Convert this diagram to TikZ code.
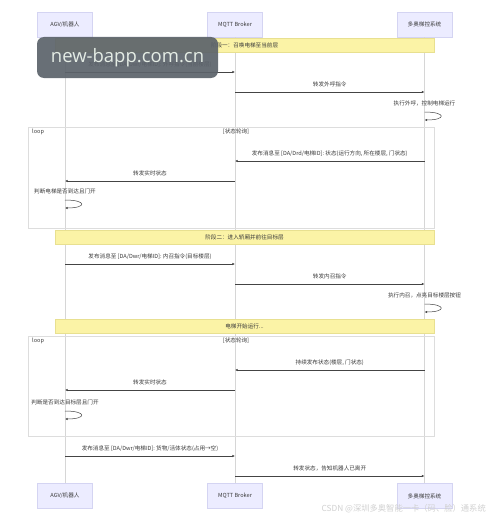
\documentclass[tikz,border=0pt]{standalone}
\usepackage{fontspec}
\usepackage{xcolor}
\usepackage{tikz}
\usetikzlibrary{arrows.meta}
\newfontfamily\cjk{Noto Sans CJK SC}
\newfontfamily\wmfont{Open Sans}
\definecolor{actorfill}{HTML}{ECECFF}
\definecolor{actorline}{HTML}{D4D4F2}
\definecolor{notefill}{HTML}{FBF3A6}
\definecolor{noteline}{HTML}{E8E090}
\definecolor{lifecol}{HTML}{D6D6D6}
\definecolor{framecol}{HTML}{DDDDDD}
\definecolor{msgcol}{HTML}{444444}
\definecolor{txtcol}{HTML}{3A3A3A}
\definecolor{wmgray}{HTML}{5C636B}
\definecolor{wmtext}{HTML}{E4ECE4}
\tikzset{
  actor/.style={rectangle, draw=actorline, fill=actorfill, minimum width=55pt,
    minimum height=25pt, text=txtcol, font=\cjk\fontsize{5.6}{7}\selectfont},
  phase/.style={rectangle, draw=noteline, fill=notefill, minimum width=379pt,
    minimum height=14pt, inner sep=1pt, text=txtcol, font=\cjk\fontsize{5.6}{7}\selectfont},
  lbl/.style={inner sep=1pt, text=txtcol, font=\cjk\fontsize{5.6}{7}\selectfont},
  msg/.style={draw=msgcol, line width=0.5pt, -{Latex[length=2.6pt,width=2.4pt]}},
  lifeline/.style={draw=lifecol, line width=0.5pt},
  frame/.style={draw=framecol, line width=0.5pt},
  wmark/.style={rectangle, rounded corners=7pt, fill=wmgray, fill opacity=0.92,
    text opacity=1, minimum width=181pt, minimum height=41pt, text=wmtext,
    font=\wmfont\fontsize{18.5}{20}\selectfont},
  csdn/.style={inner sep=0pt, text=black!18, font=\cjk\fontsize{8.3}{10}\selectfont}
}

\begin{document}
\begin{tikzpicture}[x=1pt, y=-1pt]
        \useasboundingbox[fill=white] (0,0) rectangle (489,519);

        % lifelines and participants
        \node[actor] (agv) at (65,24.5) {AGV/机器人};
        \node[actor] (brk) at (235,24.5) {MQTT Broker};
        \node[actor] (sys) at (424.5,24.5) {多奥梯控系统};
        \node[actor] (agvB) at (65,496) {AGV/机器人};
        \node[actor] (brkB) at (235,496) {MQTT Broker};
        \node[actor] (sysB) at (424.5,496) {多奥梯控系统};

        \foreach \head/\foot in {agv/agvB, brk/brkB, sys/sysB}
        \draw[lifeline] (\head) -- (\foot);

        % loop frames
        \draw[frame] (28,127) rectangle (434,228);
        \node[lbl, anchor=west] (loopA) at (31,132) {loop};
        \node[lbl] (condA) at (236,132) {[状态轮询]};
        \draw[frame] (28,336) rectangle (434,436);
        \node[lbl, anchor=west] (loopB) at (31,341) {loop};
        \node[lbl] (condB) at (236,341) {[状态轮询]};

        % notes
        \node[phase] (ph1) at (244.5,45) {阶段一：召唤电梯至当前层};
        \node[phase] (ph2) at (244.5,237.5) {阶段二：进入轿厢并前往目标层};
        \node[phase] (run) at (244.5,326) {电梯开始运行...};

        % messages
        \foreach \y/\from/\to/\txt [count=\i] in {
          72/agv/brk/{发布消息至 [DA/Dwr/电梯ID]: 外呼指令(当前楼层)},
          92/brk/sys/{转发外呼指令},
          161/sys/brk/{发布消息至 [DA/Drd/电梯ID]: 状态(运行方向, 所在楼层, 门状态)},
          181/brk/agv/{转发实时状态},
          264/agv/brk/{发布消息至 [DA/Dwr/电梯ID]: 内召指令(目标楼层)},
          284/brk/sys/{转发内召指令},
          370/sys/brk/{持续发布状态(楼层, 门状态)},
          390/brk/agv/{转发实时状态},
          456/agv/brk/{发布消息至 [DA/Dwr/电梯ID]: 货物/活体状态(占用→空)},
          476/brk/sys/{转发状态，告知机器人已离开}}
        \draw[msg] (\from |- 0,\y) -- node[lbl, above=3.5pt] (msg\i) {\txt} (\to |- 0,\y);

        % self calls
        \foreach \y/\who/\txt [count=\i] in {
          103/sys/{执行外呼，控制电梯运行},
          191/agv/{判断电梯是否到达且门开},
          295/sys/{执行内召，点亮目标楼层按钮},
          402/agv/{判断是否到达目标层且门开}}
        {
          \node[lbl] (self\i) at (\who |- 0,\y) {\txt};
          \draw[msg] (\who |- 0,\y+9) .. controls +(22,0) and +(22,0) .. (\who |- 0,\y+17);
        }

        % overlays
        \node[wmark] (wm) at (127.5,57.5) {new-bapp.com.cn};
        \node[csdn, anchor=east] (mark) at (486,509) {CSDN @深圳多奥智能一卡（码、脸）通系统};
      \end{tikzpicture}
\end{document}
